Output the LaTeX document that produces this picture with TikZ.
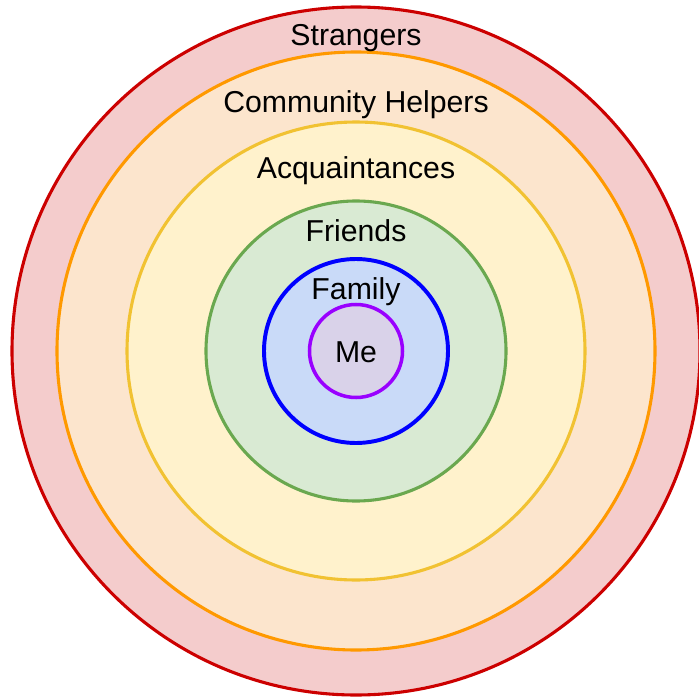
\documentclass[tikz,border=0pt]{standalone}
\usepackage{fontspec}
\setmainfont{Liberation Sans}
\usepackage{tikz}
\usepackage{xcolor}
\definecolor{Ring_Red}{HTML}{CC0000}
\definecolor{Ring_Red_Fill}{HTML}{F4CCCC}
\definecolor{Ring_Orange}{HTML}{FF9900}
\definecolor{Ring_Orange_Fill}{HTML}{FCE5CD}
\definecolor{Ring_Yellow}{HTML}{F1C232}
\definecolor{Ring_Yellow_Fill}{HTML}{FFF2CC}
\definecolor{Ring_Green}{HTML}{6AA84F}
\definecolor{Ring_Green_Fill}{HTML}{D9EAD3}
\definecolor{Ring_Blue}{HTML}{0000FF}
\definecolor{Ring_Blue_Fill}{HTML}{C9DAF8}
\definecolor{Ring_Purple}{HTML}{9900FF}
\definecolor{Ring_Purple_Fill}{HTML}{D9D2E9}

\begin{document}
\begin{tikzpicture}[x=0.025cm, y=-0.025cm,
    ring label/.style={anchor=base, text=black, font=\fontsize{21.5}{25}\selectfont}]
    % Frame
    \useasboundingbox (0,0) rectangle (699,697);
    
    % Rings (outermost first)
    \foreach \r/\c/\w in {344/Red/2.2pt, 299/Orange/2.2pt, 229/Yellow/2.2pt, 150/Green/2.2pt, 92/Blue/2.8pt, 46.5/Purple/2.5pt} {
        \draw[line width=\w, draw=Ring_\c, fill=Ring_\c_Fill] (356,351) circle[radius=\r];
    }
    
    % Labels
    \node[ring label] (strangers) at (356,46) {Strangers};
    \node[ring label] (helpers) at (356,112) {Community Helpers};
    \node[ring label] (acquaintances) at (356,178) {Acquaintances};
    \node[ring label] (friends) at (356,241) {Friends};
    \node[ring label] (family) at (356,299) {Family};
    \node[ring label] (me) at (356,362) {Me};
\end{tikzpicture}
\end{document}
